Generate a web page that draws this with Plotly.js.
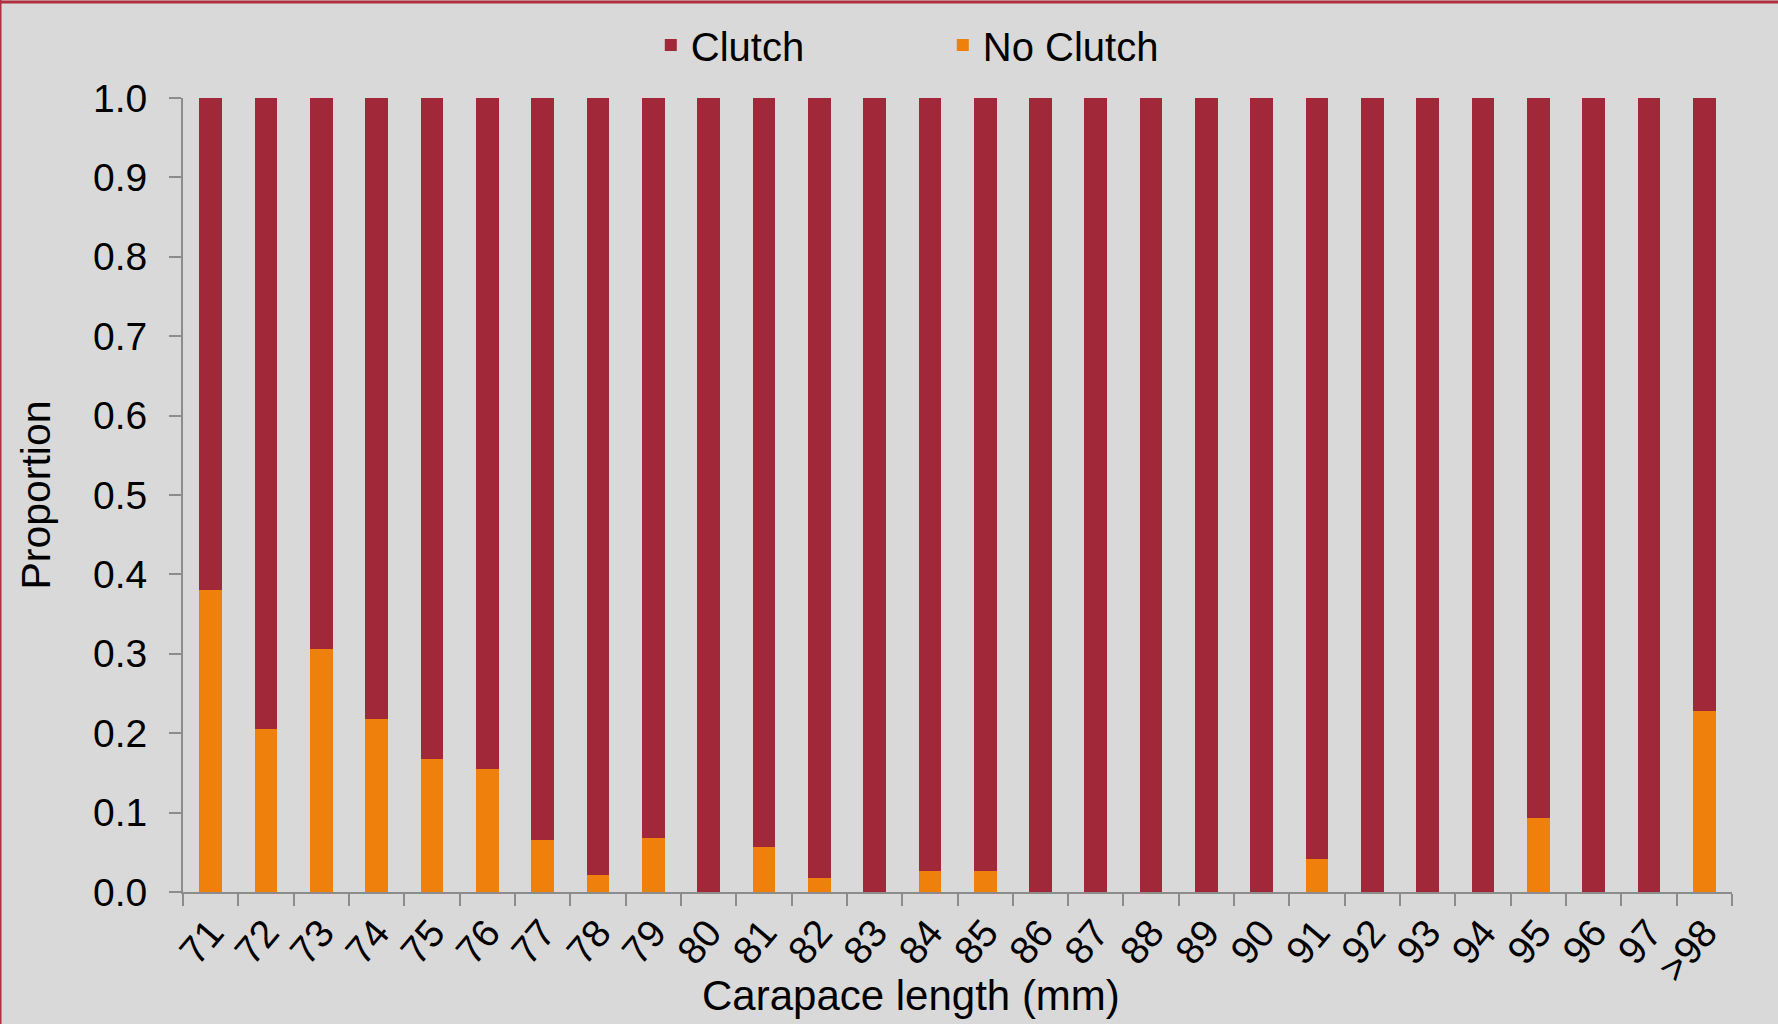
<!DOCTYPE html>
<html>
<head>
<meta charset="utf-8">
<script src="https://cdn.plot.ly/plotly-3.0.1.min.js"></script>
<style>html,body{margin:0;padding:0;background:#d9d9d9;}#chart{width:1778px;height:1024px;}</style>
</head>
<body>
<div id="chart"></div>
<script>
const categories = ["71","72","73","74","75","76","77","78","79","80","81","82","83","84","85","86","87","88","89","90","91","92","93","94","95","96","97",">98"];
const noClutch = [0.38,0.205,0.306,0.218,0.168,0.155,0.066,0.021,0.068,0,0.057,0.018,0,0.027,0.027,0,0,0,0,0,0.041,0,0,0,0.093,0,0,0.228];
const clutch = [0.62,0.795,0.694,0.782,0.832,0.845,0.934,0.979,0.932,1,0.943,0.982,1,0.973,0.973,1,1,1,1,1,0.959,1,1,1,0.907,1,1,0.772];
const yTickVals = [0,0.1,0.2,0.3,0.4,0.5,0.6,0.7,0.8,0.9,1.0];
const yTickText = ["0.0","0.1","0.2","0.3","0.4","0.5","0.6","0.7","0.8","0.9","1.0"];

const FONT = '"Liberation Sans Narrow", "Arial Narrow", "Liberation Sans", sans-serif';
const traces = [
  {type:'bar', name:'No Clutch', x:categories, y:noClutch, marker:{color:'#EF800B'}},
  {type:'bar', name:'Clutch', x:categories, y:clutch, marker:{color:'#A02838'}}
];
const W = 1549, H = 794;
const layout = {
  width:1778, height:1024,
  paper_bgcolor:'#d9d9d9', plot_bgcolor:'#d9d9d9',
  margin:{l:183, r:46, t:98, b:132, pad:0},
  barmode:'stack', bargap:0.59,
  font:{family:FONT, color:'#000', size:40},
  showlegend:true,
  legend:{orientation:'h', traceorder:'reversed', x:0.302, xanchor:'left', y:1 + 53/H, yanchor:'middle',
          font:{family:FONT, size:40}, entrywidth:247, entrywidthmode:'pixels', bgcolor:'rgba(0,0,0,0)'},
  xaxis:{type:'category', showline:true, linecolor:'#8c8c8c', linewidth:2, ticks:'outside', tickson:'boundaries',
         ticklen:12, tickcolor:'#8c8c8c', tickwidth:2, tickangle:-50, showgrid:false, zeroline:false,
         tickfont:{family:FONT, size:39}, automargin:false},
  yaxis:{range:[0,1], tickvals:yTickVals, ticktext:yTickText, showline:true, linecolor:'#8c8c8c', linewidth:2,
         ticks:'outside', ticklen:12, tickcolor:'#8c8c8c', tickwidth:2, showgrid:false, zeroline:false,
         ticklabelstandoff:14,
         tickfont:{family:FONT, size:39}, automargin:false,
         title:{text:'Proportion', font:{family:FONT, size:41}, standoff:30}},
  annotations:[{text:'Carapace length (mm)', xref:'paper', yref:'paper', x:0.47, y:-0.13, xanchor:'center', yanchor:'middle',
                showarrow:false, font:{family:FONT, size:42}}],
  shapes:[
    {type:'line', xref:'paper', yref:'paper', x0:-183/W, x1:-183/W, y0:-132/H, y1:1+98/H, line:{color:'#b03040', width:3}},
    {type:'line', xref:'paper', yref:'paper', x0:-183/W, x1:1+46/W, y0:1+96/H, y1:1+96/H, line:{color:'#b03040', width:3}}
  ]
};
Plotly.newPlot('chart', traces, layout, {staticPlot:true});
</script>
</body>
</html>
